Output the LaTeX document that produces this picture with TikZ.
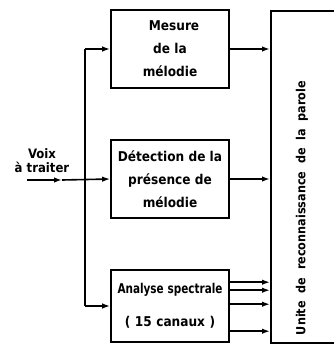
\documentclass[tikz,border=0pt]{standalone}
\usepackage{fontspec}
\setmainfont{DejaVu Sans Condensed}
\usetikzlibrary{arrows.meta,calc}

\begin{document}
\begin{tikzpicture}[
    x=1pt, y=-1pt,
    bloc/.style={
        draw,
        line width=1.6pt,
        rectangle,
        minimum width=118pt,
        align=center,
        font=\fontsize{13.5}{23}\selectfont\bfseries
    },
    fleche/.style={
        line width=1.6pt,
        -{Latex[length=8pt,width=5.5pt]}
    },
    trait/.style={
        line width=1.6pt
    }
]
    \useasboundingbox (0,0) rectangle (334,348);
    \clip (0,0) rectangle (334,348);

    % Texte d'entree
    \node[align=center, font=\fontsize{13}{15}\selectfont\bfseries] (voix) at (42,161) {Voix\\[-1pt]à traiter};
    \coordinate (entree) at (27,180);
    \coordinate (milieu) at (62,180);
    \coordinate (noeud) at (85,180);

    % Blocs de traitement
    \node[bloc, minimum height=78pt] (mesure) at (170,49) {\hspace*{8pt}Mesure\\de la\\mélodie};
    \node[bloc, minimum height=78pt] (detection) at (170,179) {Détection de la\\présence de\\mélodie};
    \node[bloc, minimum height=72pt, text width=110pt, inner xsep=4pt] (analyse) at (170,306)
        {\scalebox{0.86}[1]{Analyse spectrale}\\[10pt]( 15 canaux )};

    % Unite de reconnaissance
    \node[draw, line width=1.6pt, rectangle, minimum width=90pt, minimum height=332pt,
          anchor=north west] (unite) at (270,10) {};
    \node[rotate=90, font=\fontsize{12.5}{15}\selectfont\bfseries] (parole) at (302,208)
        {\makebox[254pt][s]{Unite de reconnaissance de la parole}};

    % Entree et distribution
    \draw[fleche] (entree) -- (milieu);
    \draw[fleche] (milieu) -- (detection.west);
    \draw[trait] (noeud |- mesure.west) -- (noeud |- analyse.west);
    \draw[fleche] (noeud |- mesure.west) -- (mesure.west);
    \draw[fleche] (noeud |- analyse.west) -- (analyse.west);

    % Sorties vers l'unite
    \draw[fleche] (mesure.east) -- (unite.west |- mesure.east);
    \draw[fleche] (detection.east) -- (unite.west |- detection.east);
    \foreach \dy in {13,21,35,62}
        \draw[fleche] ($(analyse.north east)+(0,\dy)$) -- ($(unite.west |- analyse.north east)+(0,\dy)$);

\end{tikzpicture}
\end{document}
